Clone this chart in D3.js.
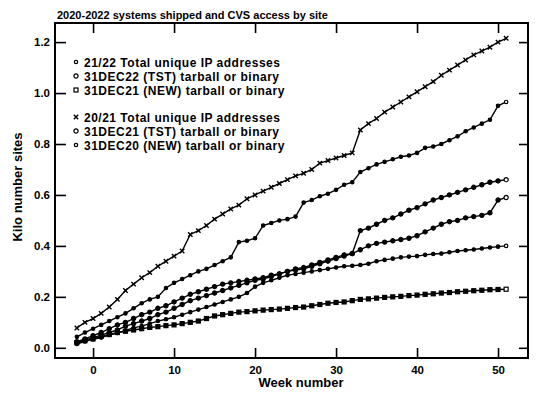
<!DOCTYPE html>
<html>
<head>
<meta charset="utf-8">
<script src="https://cdn.jsdelivr.net/npm/d3@7"></script>
<style>
  body { margin: 0; background: #fff; }
  text { font-family: "Liberation Sans", Arial, Helvetica, sans-serif; font-weight: bold; fill: #000; }
</style>
</head>
<body>
<script>
// week numbers, one point per week
var weeks = d3.range(-2, 52);

var total2021 = [0.078, 0.10, 0.115, 0.135, 0.16, 0.19, 0.225, 0.25, 0.275, 0.295,
  0.32, 0.34, 0.36, 0.38, 0.445, 0.46, 0.48, 0.505, 0.525, 0.545,
  0.56, 0.585, 0.60, 0.615, 0.63, 0.645, 0.66, 0.675, 0.685, 0.70,
  0.725, 0.735, 0.745, 0.755, 0.765, 0.855, 0.88, 0.90, 0.925, 0.945,
  0.965, 0.985, 1.005, 1.025, 1.045, 1.07, 1.09, 1.11, 1.13, 1.15,
  1.165, 1.18, 1.20, 1.215];

var total2122 = [0.043, 0.06, 0.075, 0.09, 0.105, 0.12, 0.135, 0.155, 0.175, 0.19,
  0.20, 0.235, 0.255, 0.27, 0.285, 0.30, 0.31, 0.325, 0.34, 0.355,
  0.415, 0.42, 0.43, 0.48, 0.49, 0.50, 0.505, 0.515, 0.57, 0.58,
  0.595, 0.605, 0.62, 0.64, 0.65, 0.69, 0.705, 0.72, 0.73, 0.74,
  0.75, 0.755, 0.765, 0.785, 0.79, 0.80, 0.815, 0.83, 0.85, 0.865,
  0.88, 0.895, 0.95, 0.965];

var tst22 = [0.024, 0.035, 0.048, 0.06, 0.075, 0.09, 0.10, 0.115, 0.13, 0.14,
  0.155, 0.165, 0.18, 0.195, 0.21, 0.22, 0.23, 0.24, 0.25, 0.255,
  0.26, 0.265, 0.27, 0.275, 0.285, 0.29, 0.30, 0.31, 0.315, 0.325,
  0.335, 0.345, 0.355, 0.365, 0.37, 0.46, 0.47, 0.485, 0.50, 0.51,
  0.525, 0.54, 0.55, 0.565, 0.58, 0.59, 0.60, 0.61, 0.62, 0.63,
  0.64, 0.65, 0.655, 0.66];

var tst21 = [0.02, 0.03, 0.04, 0.05, 0.06, 0.07, 0.085, 0.095, 0.105, 0.115,
  0.13, 0.14, 0.155, 0.17, 0.185, 0.195, 0.205, 0.215, 0.225, 0.235,
  0.245, 0.255, 0.265, 0.27, 0.28, 0.29, 0.30, 0.305, 0.31, 0.32,
  0.33, 0.34, 0.35, 0.36, 0.37, 0.385, 0.40, 0.41, 0.415, 0.42,
  0.425, 0.43, 0.44, 0.455, 0.47, 0.485, 0.495, 0.50, 0.51, 0.515,
  0.52, 0.53, 0.58, 0.59];

var new20 = [0.015, 0.025, 0.033, 0.04, 0.05, 0.058, 0.068, 0.078, 0.085, 0.095,
  0.105, 0.112, 0.12, 0.13, 0.14, 0.15, 0.16, 0.17, 0.18, 0.19,
  0.20, 0.215, 0.24, 0.255, 0.265, 0.275, 0.285, 0.29, 0.295, 0.30,
  0.305, 0.31, 0.315, 0.32, 0.322, 0.325, 0.33, 0.34, 0.345, 0.35,
  0.355, 0.358, 0.36, 0.365, 0.368, 0.37, 0.375, 0.38, 0.383, 0.386,
  0.39, 0.394, 0.397, 0.40];

var new21 = [0.02, 0.028, 0.035, 0.045, 0.052, 0.06, 0.065, 0.07, 0.075, 0.08,
  0.083, 0.087, 0.09, 0.095, 0.10, 0.105, 0.115, 0.125, 0.13, 0.135,
  0.14, 0.142, 0.145, 0.148, 0.15, 0.152, 0.155, 0.158, 0.16, 0.165,
  0.17, 0.175, 0.178, 0.18, 0.185, 0.19, 0.192, 0.195, 0.198, 0.20,
  0.202, 0.205, 0.207, 0.21, 0.212, 0.215, 0.217, 0.22, 0.222, 0.224,
  0.226, 0.228, 0.229, 0.23];

var labels = ["21/22 Total unique IP addresses", "31DEC22 (TST) tarball or binary",
  "31DEC21 (NEW) tarball or binary", "20/21 Total unique IP addresses",
  "31DEC21 (TST) tarball or binary", "31DEC20 (NEW) tarball or binary"];
var xTicks = [0, 10, 20, 30, 40, 50];
var yTicks = [0.0, 0.2, 0.4, 0.6, 0.8, 1.0, 1.2];

var series = [
  {name: labels[0], values: total2122, shape: "dot"},
  {name: labels[1], values: tst22, shape: "circle"},
  {name: labels[2], values: new21, shape: "square"},
  {name: labels[3], values: total2021, shape: "x"},
  {name: labels[4], values: tst21, shape: "circle"},
  {name: labels[5], values: new20, shape: "dot"}
];

var margin = {top: 23, right: 12, bottom: 39, left: 55},
    width = 540 - margin.left - margin.right,
    height = 397 - margin.top - margin.bottom;

var x = d3.scaleLinear().domain([-4.7, 53.7]).range([0, width]);
var y = d3.scaleLinear().domain([-0.04, 1.275]).range([height, 0]);

var svg = d3.select("body").append("svg")
    .attr("width", 540)
    .attr("height", 397);

svg.append("text")
    .attr("x", 57).attr("y", 19)
    .style("font-size", "11px")
    .text("2020-2022 systems shipped and CVS access by site");

var g = svg.append("g")
    .attr("transform", "translate(" + margin.left + "," + margin.top + ")");

// axes with inward ticks on all four sides
g.append("g")
    .attr("transform", "translate(0," + height + ")")
    .call(d3.axisBottom(x).tickValues(xTicks).tickSizeInner(-10).tickSizeOuter(0).tickPadding(8).tickFormat(d3.format("d")))
    .call(function(a) { a.select(".domain").remove(); });
g.append("g")
    .call(d3.axisTop(x).tickValues(xTicks).tickSizeInner(-10).tickSizeOuter(0).tickFormat(""))
    .call(function(a) { a.select(".domain").remove(); });
g.append("g")
    .call(d3.axisLeft(y).tickValues(yTicks).tickSizeInner(-11).tickSizeOuter(0).tickPadding(5).tickFormat(d3.format(".1f")))
    .call(function(a) { a.select(".domain").remove(); });
g.append("g")
    .attr("transform", "translate(" + width + ",0)")
    .call(d3.axisRight(y).tickValues(yTicks).tickSizeInner(-9).tickSizeOuter(0).tickFormat(""))
    .call(function(a) { a.select(".domain").remove(); });

g.selectAll(".tick line").attr("stroke", "#000").attr("stroke-width", 1.6);
g.selectAll(".tick text")
    .style("font-family", "'Liberation Sans', Arial, sans-serif")
    .style("font-weight", "bold")
    .style("font-size", "11.5px");

g.append("rect")
    .attr("width", width).attr("height", height)
    .attr("fill", "none").attr("stroke", "#000").attr("stroke-width", 2);

svg.append("text")
    .attr("x", 301).attr("y", 387)
    .attr("text-anchor", "middle")
    .style("font-size", "13px")
    .text("Week number");

svg.append("text")
    .attr("transform", "translate(22,187) rotate(-90)")
    .attr("text-anchor", "middle")
    .style("font-size", "13px")
    .text("Kilo number sites");

function marker(sel, shape, fill) {
  if (shape === "x") {
    sel.append("path").attr("d", "M-2.2,-2.2L2.2,2.2M-2.2,2.2L2.2,-2.2")
      .attr("stroke", "#000").attr("stroke-width", 1.4).attr("fill", "none");
  } else if (shape === "square") {
    sel.append("rect").attr("x", -2).attr("y", -2).attr("width", 4).attr("height", 4)
      .attr("fill", fill).attr("stroke", "#000").attr("stroke-width", 1.2);
  } else {
    sel.append("circle").attr("r", shape === "dot" ? 1.7 : 2.1)
      .attr("fill", fill).attr("stroke", "#000").attr("stroke-width", 1.2);
  }
}

var line = d3.line()
    .x(function(d) { return x(d[0]); })
    .y(function(d) { return y(d[1]); });

series.forEach(function(s) {
  var pts = weeks.map(function(w, i) { return [w, s.values[i]]; });
  g.append("path")
      .datum(pts)
      .attr("fill", "none")
      .attr("stroke", "#000")
      .attr("stroke-width", 1.4)
      .attr("d", line);
  g.selectAll(null)
      .data(pts)
      .enter().append("g")
      .attr("transform", function(d) { return "translate(" + x(d[0]) + "," + y(d[1]) + ")"; })
      .each(function(d, i) { marker(d3.select(this), s.shape, i === pts.length - 1 ? "#fff" : "#000"); });
});

// legend
var rowY = [62, 76, 90, 117, 131, 145];
series.forEach(function(s, i) {
  var lg = svg.append("g").attr("transform", "translate(76," + rowY[i] + ")");
  marker(lg, s.shape, "#fff");
  lg.append("text")
      .attr("x", 8).attr("y", 4.5)
      .style("font-size", "12px")
      .style("letter-spacing", "0.5px")
      .text(s.name);
});
</script>
</body>
</html>
